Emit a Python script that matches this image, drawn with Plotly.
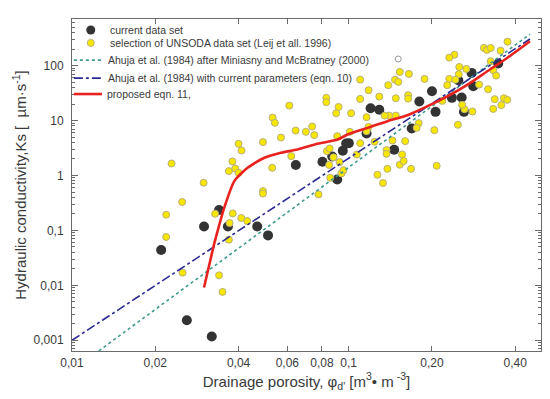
import plotly.graph_objects as go

# ---- data ----
cur_phi = [0.0210, 0.0260, 0.0320, 0.0300, 0.0340, 0.0366, 0.0467, 0.0511, 0.0644, 0.0804,
           0.0872, 0.0952, 0.0909, 0.0979, 0.1001, 0.116, 0.120, 0.129, 0.146, 0.169,
           0.180, 0.200, 0.206, 0.236, 0.256, 0.261, 0.249, 0.278, 0.282, 0.347]
cur_ks = [0.0441, 0.00231, 0.00117, 0.118, 0.235, 0.118, 0.118, 0.0811, 1.55, 1.78,
          2.22, 2.81, 0.846, 3.82, 3.88, 5.80, 16.8, 15.7, 2.93, 7.16,
          22.2, 34.2, 14.4, 25.9, 26.2, 14.4, 54.3, 73.7, 42.2, 109]

uns_phi = [0.0229, 0.0299, 0.0250, 0.0219, 0.0219, 0.0329, 0.0381, 0.0371, 0.0409, 0.0430,
           0.0369, 0.0340, 0.0350, 0.0490, 0.0490, 0.0251, 0.0610, 0.0830, 0.0830, 0.0901,
           0.0531, 0.0541, 0.0643, 0.0700, 0.0738, 0.0751, 0.0569, 0.0490, 0.0400, 0.0410,
           0.0380, 0.0389, 0.0369, 0.0400, 0.0529, 0.0620, 0.0834, 0.0853, 0.0850, 0.0858,
           0.0778, 0.0919, 0.375, 0.308, 0.316, 0.326, 0.354, 0.241, 0.231, 0.326,
           0.251, 0.266, 0.333, 0.153, 0.165, 0.341, 0.250, 0.231, 0.243, 0.188,
           0.147, 0.151, 0.110, 0.139, 0.296, 0.319, 0.118, 0.227, 0.164, 0.164,
           0.148, 0.129, 0.110, 0.102, 0.116, 0.140, 0.148, 0.135, 0.262, 0.280,
           0.337, 0.364, 0.374, 0.356, 0.333, 0.218, 0.257, 0.179, 0.176, 0.118,
           0.116, 0.101, 0.204, 0.248, 0.110, 0.0909, 0.0881, 0.0927, 0.107, 0.124,
           0.144, 0.137, 0.137, 0.156, 0.153, 0.158, 0.138, 0.168, 0.208, 0.127,
           0.0942, 0.160, 0.0958, 0.133]
uns_ks = [1.65, 0.736, 0.328, 0.193, 0.0759, 0.201, 0.204, 0.136, 0.168, 0.148,
          0.0678, 0.0152, 0.00759, 0.520, 0.469, 0.0170, 18.7, 25.9, 21.6, 13.6,
          11.3, 9.08, 6.58, 6.23, 7.78, 5.43, 4.91, 4.05, 3.77, 2.85,
          1.80, 1.34, 1.20, 1.12, 1.38, 2.25, 2.78, 3.10, 1.55, 0.908,
          0.452, 17.7, 273, 210, 193, 210, 187, 158, 140, 120,
          94.7, 87.1, 82.5, 76.8, 70.6, 65.8, 69.8, 57.3, 55.6, 57.3,
          55.6, 50.6, 55.6, 44.1, 45.2, 37.2, 35.7, 44.1, 29.0, 25.1,
          25.5, 27.3, 24.8, 13.6, 11.5, 12.3, 12.3, 12.3, 16.1, 14.6,
          24.5, 25.5, 23.8, 19.1, 16.3, 22.8, 19.3, 8.97, 7.36, 7.67,
          6.41, 6.23, 6.68, 8.36, 3.88, 5.20, 2.14, 1.75, 2.41, 4.10,
          4.33, 2.90, 2.48, 2.41, 1.57, 1.83, 1.32, 1.32, 1.50, 1.03,
          1.09, 4.22, 1.25, 0.728]

open_phi = [0.151]
open_ks = [132]

ahuja_mm_phi = [0.0125, 0.452]
ahuja_mm_ks = [0.00064, 373]

ahuja_cur_phi = [0.0100, 0.452]
ahuja_cur_ks = [0.00100, 305]

prop_phi = [0.0300, 0.0325, 0.0331, 0.0355, 0.0386, 0.0431, 0.0496, 0.0569, 0.0653, 0.0771,
            0.0912, 0.0991, 0.117, 0.138, 0.163, 0.193, 0.228, 0.269, 0.317, 0.374, 0.452]
prop_ks = [0.0091, 0.052, 0.0736, 0.259, 0.79, 1.38, 2.10, 2.59, 2.97, 3.77,
           4.51, 5.56, 7.36, 9.75, 12.5, 18.3, 27.8, 45.2, 79, 138, 278]

x_tickvals = [0.01, 0.02, 0.04, 0.06, 0.08, 0.1, 0.2, 0.4]
x_ticktext = ["0,01", "0,02", "0,04", "0,06", "0,08", "0,1", "0,20", "0,40"]
y_tickvals = [0.001, 0.01, 0.1, 1, 10, 100]
y_ticktext = ["0,001", "0,01", "0,1", "1", "10", "100"]

legend_labels = ["current data set",
                 "selection of UNSODA data set (Leij et all. 1996)",
                 "Ahuja et al. (1984) after Miniasny and McBratney (2000)",
                 "Ahuja et al. (1984) with current parameters (eqn. 10)",
                 "proposed eqn. 11,"]

FONT = "Arial, 'Liberation Sans', sans-serif"
TXT = "#3a3a3a"
AX = "#6a6a6a"
C_BLACK = "#333333"
C_YEL = "#f7e600"
C_YEL_EDGE = "#b9b07a"
C_GREEN = "#3d9a8c"
C_BLUE = "#2b2b96"
C_RED = "#e8231f"

fig = go.Figure()
fig.add_trace(go.Scatter(x=cur_phi, y=cur_ks, mode="markers", name=legend_labels[0],
                         marker=dict(color=C_BLACK, size=10, line=dict(width=0))))
fig.add_trace(go.Scatter(x=uns_phi, y=uns_ks, mode="markers", name=legend_labels[1],
                         marker=dict(color=C_YEL, size=7, line=dict(color=C_YEL_EDGE, width=1))))
fig.add_trace(go.Scatter(x=open_phi, y=open_ks, mode="markers", name="open",
                         marker=dict(color="#999999", size=6, symbol="circle-open", line=dict(width=1))))
fig.add_trace(go.Scatter(x=ahuja_mm_phi, y=ahuja_mm_ks, mode="lines", name=legend_labels[2],
                         line=dict(color=C_GREEN, width=1.6, dash="dot")))
fig.add_trace(go.Scatter(x=ahuja_cur_phi, y=ahuja_cur_ks, mode="lines", name=legend_labels[3],
                         line=dict(color=C_BLUE, width=1.6, dash="dashdot")))
fig.add_trace(go.Scatter(x=prop_phi, y=prop_ks, mode="lines", name=legend_labels[4],
                         line=dict(color=C_RED, width=2.6, shape="spline", smoothing=0.6)))

# ---- hand-placed legend (paper coordinates, to match the compact row spacing) ----
row_y = [0.967, 0.928, 0.876, 0.822, 0.774]
sym_x = 0.040
line_x0, line_x1 = 0.004, 0.064
txt_x = [0.077, 0.077, 0.072, 0.072, 0.070]

fig.add_shape(type="circle", xref="paper", yref="paper", xsizemode="pixel", ysizemode="pixel",
              xanchor=sym_x, yanchor=row_y[0], x0=-4.5, x1=4.5, y0=-4.5, y1=4.5,
              fillcolor=C_BLACK, line=dict(width=0))
fig.add_shape(type="circle", xref="paper", yref="paper", xsizemode="pixel", ysizemode="pixel",
              xanchor=sym_x, yanchor=row_y[1], x0=-3.5, x1=3.5, y0=-3.5, y1=3.5,
              fillcolor=C_YEL, line=dict(width=1, color=C_YEL_EDGE))
fig.add_shape(type="line", xref="paper", yref="paper", x0=line_x0, x1=line_x1,
              y0=row_y[2], y1=row_y[2], line=dict(color=C_GREEN, width=1.6, dash="dot"))
fig.add_shape(type="line", xref="paper", yref="paper", x0=line_x0, x1=line_x1,
              y0=row_y[3], y1=row_y[3], line=dict(color=C_BLUE, width=1.6, dash="dashdot"))
fig.add_shape(type="line", xref="paper", yref="paper", x0=line_x0, x1=line_x1,
              y0=row_y[4], y1=row_y[4], line=dict(color=C_RED, width=2.6))
for lab, yy, xx in zip(legend_labels, row_y, txt_x):
    fig.add_annotation(text=lab, xref="paper", yref="paper", x=xx, y=yy,
                       xanchor="left", yanchor="middle", showarrow=False,
                       font=dict(size=10.5, color=TXT))

fig.update_layout(
    width=550, height=399,
    margin=dict(l=64, r=17, t=11, b=56),
    paper_bgcolor="white", plot_bgcolor="white",
    font=dict(family=FONT, color=TXT, size=12),
    showlegend=False,
)
fig.update_xaxes(type="log", range=[-2, -0.305], tickvals=x_tickvals, ticktext=x_ticktext,
                 ticks="inside", ticklen=5, tickcolor=AX, showline=True, linecolor=AX, linewidth=1,
                 mirror="ticks", showgrid=False, zeroline=False, ticklabelstandoff=1,
                 tickfont=dict(size=12, color=TXT),
                 title=dict(text="Drainage porosity, φ<sub>d'</sub> [m<sup>3</sup>• m<sup> -3</sup>]",
                            font=dict(size=15, color=TXT), standoff=4))
fig.update_yaxes(type="log", range=[-3.196, 2.849], tickvals=y_tickvals, ticktext=y_ticktext,
                 ticks="inside", ticklen=6, tickcolor=AX, showline=True, linecolor=AX, linewidth=1,
                 mirror="ticks", showgrid=False, zeroline=False, ticklabelstandoff=5,
                 minor=dict(ticks="inside", ticklen=3, tickcolor=AX, dtick="D1", showgrid=False),
                 tickfont=dict(size=12, color=TXT),
                 title=dict(text="Hydraulic conductivity,Ks [  µm·s<sup>-1</sup>]",
                            font=dict(size=15, color=TXT), standoff=3))

fig.write_html("out.html")
